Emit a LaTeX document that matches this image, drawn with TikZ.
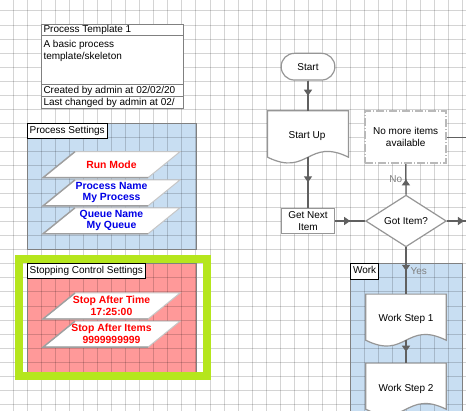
\documentclass[tikz,border=0pt]{standalone}
\usepackage{fontspec}
\setmainfont{Liberation Sans}
\usetikzlibrary{shapes.geometric,decorations.markings,arrows.meta,calc}
\pgfdeclarelayer{fills}
\pgfdeclarelayer{gridl}
\pgfdeclarelayer{shp}
\pgfsetlayers{fills,gridl,shp,main}
\definecolor{blueF}{RGB}{200,222,242}
\definecolor{redF}{RGB}{255,153,153}
\definecolor{greenB}{RGB}{181,230,29}
\definecolor{borderG}{RGB}{128,128,128}
\definecolor{shapeG}{RGB}{150,150,150}
\definecolor{lightG}{RGB}{185,185,185}
\definecolor{connG}{RGB}{96,96,96}
\definecolor{txtRed}{RGB}{255,0,0}
\definecolor{txtBlue}{RGB}{0,0,230}
\newcommand\mydoc[1]{%
  \begin{pgfonlayer}{shp}
  \filldraw[shpst] (#1.south east) -- (#1.north east) -- (#1.north west) -- (#1.south west)
     .. controls ($(#1.south)+(0,20)$) and ($(#1.south)+(0,-20)$) .. (#1.south east) -- cycle;
  \end{pgfonlayer}}
\newcommand\mypara[2]{%
  \filldraw[para] ({#1-36.5},{#2-13}) -- ({#1+68.5},{#2-13}) -- ({#1+36.5},{#2+13}) -- ({#1-68.5},{#2+13}) -- cycle;
  \draw[paraedge] ({#1-36.5},{#2-13}) -- ({#1-68.5},{#2+13}) -- ({#1+36.5},{#2+13});}
\begin{document}
\begin{tikzpicture}[x=1pt,y=-1pt,
  every node/.style={font=\fontsize{10}{11.7}\selectfont},
  gridline/.style={black, opacity=0.17, line width=1pt},
  tline/.style={draw=borderG, line width=1pt},
  container/.style={draw=borderG, line width=1.2pt, inner sep=0, outer sep=0, anchor=north west},
  lbl/.style={draw=black, fill=white, line width=0.8pt, inner xsep=2.3pt, inner ysep=0pt, minimum height=15pt, anchor=north west, text height=7.3pt, text depth=2pt, outer sep=0},
  para/.style={fill=white, draw=gray!45, line width=1pt},
  paraedge/.style={draw=gray!75, line width=1.4pt},
  ptxt/.style={font=\bfseries\fontsize{10.4}{11.7}\selectfont, align=center, inner sep=0},
  shpst/.style={draw=shapeG, fill=white, line width=1.2pt},
  term/.style={shpst, rounded corners=13.3pt, minimum width=53.7pt, minimum height=26.7pt, inner sep=0},
  procbox/.style={shpst, minimum width=53.3pt, minimum height=25.7pt, inner sep=0, align=center},
  nomorebox/.style={draw=lightG, fill=white, line width=1.8pt, dash pattern=on 8pt off 2pt on 1pt off 2pt, minimum width=80.7pt, minimum height=52.3pt, inner sep=0, align=center},
  dec/.style={shpst, diamond, minimum width=80.7pt, minimum height=51.7pt, inner sep=0},
  docn/.style={inner sep=0, minimum width=80.5pt, minimum height=46pt},
  conn/.style={draw=connG, line width=1.3pt},
  midarrow/.style={postaction={decorate}, decoration={markings, mark=at position 0.5 with {\arrow[connG]{Triangle[width=8pt,length=6pt]}}}},
  connlbl/.style={text=gray, inner sep=1pt},
  ttxt/.style={anchor=west, inner sep=0, align=left}
]
\useasboundingbox (0,0) rectangle (466,411);
\begin{pgfonlayer}{fills}
  \fill[white] (0,0) rectangle (466,411);
\end{pgfonlayer}
\begin{pgfonlayer}{gridl}
  \foreach \i in {0,...,32} \draw[gridline] ({13.3+14.05*\i},0) -- ({13.3+14.05*\i},411);
  \foreach \j in {0,...,28} \draw[gridline] (0,{11+14.05*\j}) -- (466,{11+14.05*\j});
\end{pgfonlayer}

% template box
\node[draw=borderG, fill=white, line width=1pt, inner sep=0, outer sep=0, minimum width=142pt, minimum height=84.7pt, anchor=north west] (tmpl) at (41.3,24.3) {};
\draw[tline] (41.3,36) -- (183.3,36);
\draw[tline] (41.3,85) -- (183.3,85);
\draw[tline] (41.3,96.7) -- (183.3,96.7);
\node[ttxt] (ttitle) at (43.3,30.3) {Process Template 1};
\node[ttxt] (tdesc) at (43.3,51) {A basic process\\template/skeleton};
\node[ttxt] (tcreated) at (43.3,91) {Created by admin at 02/02/20};
\node[ttxt] (tchanged) at (43.3,103) {Last changed by admin at 02/};

% process settings
\node[container, minimum width=169.4pt, minimum height=126pt] (pset) at (27.3,123.3) {};
\begin{pgfonlayer}{fills}\fill[blueF] (pset.north west) rectangle (pset.south east);\end{pgfonlayer}
\node[lbl] (psetlbl) at (pset.north west) {Process Settings};
\mypara{111.5}{164.7}
\mypara{111.5}{192.9}
\mypara{111.5}{220.8}
\node[ptxt, text=txtRed] (runmode) at (111.5,165) {Run Mode};
\node[ptxt, text=txtBlue] (procname) at (111.5,192.6) {Process Name\\My Process};
\node[ptxt, text=txtBlue] (queuename) at (111.5,220.6) {Queue Name\\My Queue};

% stopping control settings
\node[container, minimum width=169.4pt, minimum height=111pt] (stopc) at (27.3,263.3) {};
\begin{pgfonlayer}{fills}\fill[redF] (stopc.north west) rectangle (stopc.south east);\end{pgfonlayer}
\node[lbl] (stoplbl) at (stopc.north west) {Stopping Control Settings};
\mypara{111.5}{306}
\mypara{111.5}{334.2}
\node[ptxt, text=txtRed] (stoptime) at (111.5,305.8) {Stop After Time\\17:25:00};
\node[ptxt, text=txtRed] (stopitems) at (111.5,334) {Stop After Items\\9999999999};
\node[draw=greenB, line width=8pt, inner sep=0, minimum width=188pt, minimum height=117pt] (highlight) at (113,317.5) {};

% work container
\node[container, minimum width=111.6pt, minimum height=170pt] (work) at (350.7,263.3) {};
\begin{pgfonlayer}{fills}\fill[blueF] (work.north west) rectangle (work.south east);\end{pgfonlayer}
\node[lbl, minimum height=15.7pt] (worklbl) at (work.north west) {Work};

% flowchart
\node[term] (start) at (308,66.7) {Start};
\node[docn] (startup) at (308,134) {};
\mydoc{startup}
\node (startuptxt) at (307,136.5) {Start Up};
\node[nomorebox] (nomore) at (405.7,137.2) {No more items\\available};
\node[procbox] (getnext) at (308,221) {Get Next\\Item};
\node[dec] (gotitem) at (406,221) {Got Item?};
\node[docn, minimum width=80pt, minimum height=45.7pt] (ws1) at (406,317.2) {};
\mydoc{ws1}
\node (ws1txt) at (406,319.3) {Work Step 1};
\node[docn, minimum width=80pt, minimum height=45.7pt] (ws2) at (406,386.2) {};
\mydoc{ws2}
\node (ws2txt) at (406,389.3) {Work Step 2};
\coordinate (nomoreR) at (472,137.2);
\coordinate (gotR) at (481,221);

\draw[conn, midarrow] (start.south) -- (startup.north);
\draw[conn, midarrow] (startup.south) -- (getnext.north);
\draw[conn, midarrow] (getnext.east) -- (gotitem.west);
\draw[conn, midarrow] (gotitem.north) -- node[connlbl, left, xshift=-2pt] (nolbl) {No} (nomore.south);
\draw[conn] (nomore.east) -- (nomoreR);
\draw[conn, midarrow] (gotitem.east) -- (gotR);
\draw[conn, midarrow] (gotitem.south) -- node[connlbl, right, xshift=3pt] (yeslbl) {Yes} (ws1.north);
\draw[conn, midarrow] (ws1.south) -- (ws2.north);
\end{tikzpicture}
\end{document}
